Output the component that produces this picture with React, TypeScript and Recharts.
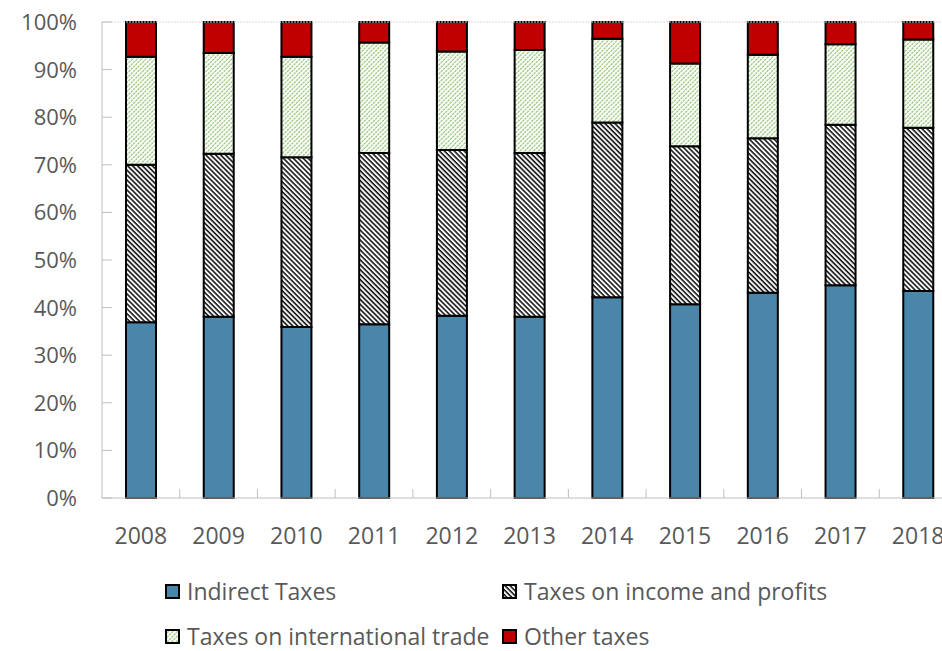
import React from 'react';
import { BarChart, Bar, XAxis, YAxis, Legend, ReferenceLine } from 'recharts';

const years = ['2008', '2009', '2010', '2011', '2012', '2013', '2014', '2015', '2016', '2017', '2018'];
const indirectTaxes = [36.9, 38.1, 35.9, 36.5, 38.3, 38.1, 42.2, 40.7, 43.1, 44.7, 43.5];
const incomeTaxes = [33.1, 34.2, 35.7, 36.0, 34.8, 34.4, 36.7, 33.2, 32.5, 33.7, 34.3];
const tradeTaxes = [22.7, 21.2, 21.1, 23.2, 20.7, 21.6, 17.6, 17.4, 17.5, 16.9, 18.5];
const otherTaxes = [7.3, 6.5, 7.3, 4.3, 6.2, 5.9, 3.5, 8.7, 6.9, 4.7, 3.7];
const yTicks = [0, 10, 20, 30, 40, 50, 60, 70, 80, 90, 100];

const data = years.map((year, i) => ({
  year,
  indirect: indirectTaxes[i],
  income: incomeTaxes[i],
  trade: tradeTaxes[i],
  other: otherTaxes[i],
}));

const series = [
  { key: 'indirect', name: 'Indirect Taxes', fill: '#4a86aa' },
  { key: 'income', name: 'Taxes on income and profits', fill: 'url(#incomeHatch)' },
  { key: 'trade', name: 'Taxes on international trade', fill: 'url(#tradeHatch)' },
  { key: 'other', name: 'Other taxes', fill: '#c00000' },
];

const FONT = '"Open Sans", "DejaVu Sans", sans-serif';
const TEXT = '#595959';
const AXIS = '#bfbfbf';
const CHART_W = 977;
const PLOT_LEFT = 102;
const PLOT_RIGHT_MARGIN = 20;
const BAND = (CHART_W - PLOT_LEFT - PLOT_RIGHT_MARGIN) / years.length;

const Patterns = () => (
  <svg width={0} height={0} style={{ position: 'absolute' }}>
    <defs>
      <pattern id="incomeHatch" patternUnits="userSpaceOnUse" width={3.5} height={3.5} patternTransform="rotate(-45)">
        <rect width={3.5} height={3.5} fill="#fff" />
        <line x1={1} y1={0} x2={1} y2={3.5} stroke="#111" strokeWidth={1.6} />
      </pattern>
      <pattern id="tradeHatch" patternUnits="userSpaceOnUse" width={3.2} height={3.2} patternTransform="rotate(45)">
        <rect width={3.2} height={3.2} fill="#fff" />
        <line x1={1} y1={0} x2={1} y2={3.2} stroke="#8fc26f" strokeWidth={1.2} strokeDasharray="1.4 0.8" />
      </pattern>
    </defs>
  </svg>
);

const XTick = (props: any) => {
  const { x, y, payload } = props;
  return (
    <g>
      <line x1={x + BAND / 2} y1={y} x2={x + BAND / 2} y2={y - 9} stroke={AXIS} strokeWidth={1} />
      <text x={x} y={y + 46} textAnchor="middle" fill={TEXT} fontSize={23} fontFamily={FONT}>
        {payload.value}
      </text>
    </g>
  );
};

const YTick = (props: any) => {
  const { x, y, payload } = props;
  return (
    <g>
      <line x1={x} y1={y} x2={x + 10} y2={y} stroke={AXIS} strokeWidth={1} />
      <text x={x - 25} y={y + 8} textAnchor="end" fill={TEXT} fontSize={22} fontFamily={FONT}>
        {`${payload.value}%`}
      </text>
    </g>
  );
};

const renderLegend = () => (
  <div
    style={{
      display: 'grid',
      gridTemplateColumns: '337px 337px',
      gridTemplateRows: '45px 24px',
      fontFamily: FONT,
      fontSize: 23,
      lineHeight: '24px',
      color: TEXT,
    }}
  >
    {series.map((s) => (
      <div key={s.key} style={{ height: 24, display: 'flex', alignItems: 'center', whiteSpace: 'nowrap' }}>
        <svg width={15} height={15} style={{ marginRight: 7, flexShrink: 0 }}>
          <rect x={1} y={1} width={13} height={13} fill={s.fill} stroke="#000" strokeWidth={2} />
        </svg>
        <span>{s.name}</span>
      </div>
    ))}
  </div>
);

export default function App() {
  return (
    <div style={{ position: 'absolute', left: 0, top: 0, width: 942, height: 651, overflow: 'hidden', background: '#fff' }}>
      <Patterns />
      <BarChart
        width={CHART_W}
        height={651}
        data={data}
        margin={{ top: 22, right: PLOT_RIGHT_MARGIN, left: 0, bottom: 0 }}
        barCategoryGap={0}
      >
        <XAxis
          dataKey="year"
          height={153}
          interval={0}
          tickSize={0}
          tickMargin={0}
          tickLine={false}
          axisLine={{ stroke: AXIS }}
          tick={<XTick />}
        />
        <YAxis
          width={PLOT_LEFT}
          domain={[0, 100]}
          ticks={yTicks}
          interval={0}
          tickSize={0}
          tickMargin={0}
          tickLine={false}
          axisLine={{ stroke: AXIS }}
          tick={<YTick />}
        />
        <ReferenceLine y={100} stroke="#d9d9d9" strokeDasharray="2 1" />
        {series.map((s) => (
          <Bar
            key={s.key}
            dataKey={s.key}
            name={s.name}
            stackId="tax"
            fill={s.fill}
            stroke="#000"
            strokeWidth={2}
            barSize={30}
            isAnimationActive={false}
          />
        ))}
        <Legend
          layout="vertical"
          align="center"
          verticalAlign="middle"
          content={renderLegend}
          wrapperStyle={{ left: 165, top: 579, width: 700 }}
        />
      </BarChart>
    </div>
  );
}
